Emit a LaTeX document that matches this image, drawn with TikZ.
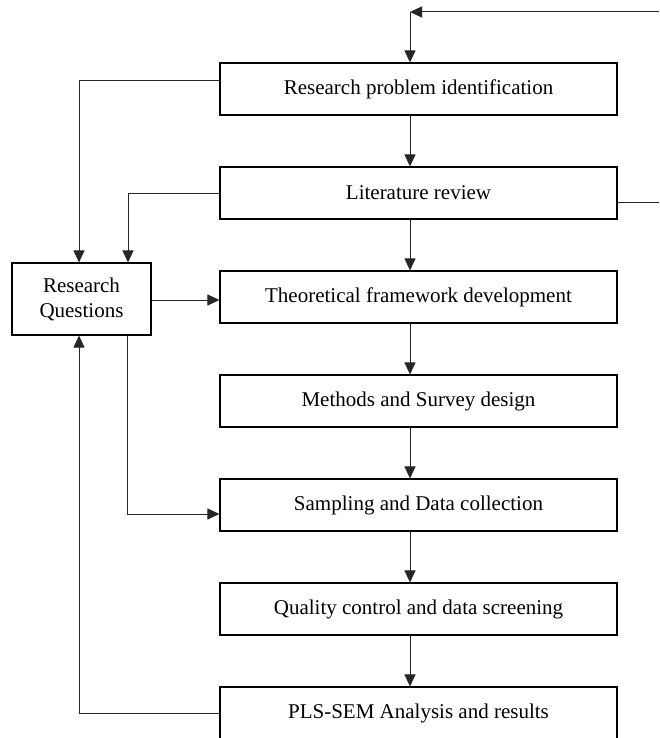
\documentclass[tikz,border=0pt]{standalone}
\usepackage{fontspec}
\setmainfont{Liberation Serif}
\usetikzlibrary{arrows.meta,positioning}

\begin{document}
\begin{tikzpicture}[x=1pt,y=-1pt,
    stage/.style={draw,line width=1.1pt,minimum width=397pt,minimum height=52pt,
      inner sep=0pt,font=\fontsize{21}{25}\selectfont},
    rqbox/.style={draw,line width=1.1pt,minimum width=139pt,minimum height=72pt,
      inner sep=0pt,align=center,font=\fontsize{21}{25}\selectfont},
    link/.style={line width=1pt,draw=black!85,-{Triangle[length=12pt,width=11pt]}},
    plain/.style={line width=1pt,draw=black!85}]
    \useasboundingbox (0,0) rectangle (659,738);

    \node[stage] (prob) at (418.5,89) {Research problem identification};
    \node[stage,below=50.9pt of prob] (lit) {Literature review};
    \node[stage,below=50.9pt of lit] (theo) {Theoretical framework development};
    \node[stage,below=50.9pt of theo] (meth) {Methods and Survey design};
    \node[stage,below=50.9pt of meth] (samp) {Sampling and Data collection};
    \node[stage,below=50.9pt of samp] (qual) {Quality control and data screening};
    \node[stage,below=50.9pt of qual] (pls) {PLS-SEM Analysis and results};
    \node[rqbox] (rq) at (81.5,299) {Research\\Questions};

    \coordinate (spine) at (410,0);
    \coordinate (fbin) at (659,12);
    \coordinate (fbout) at (659,202);
    \coordinate (fbturn) at (410,12);

    % main chain
    \draw[link] (prob.south -| spine) -- (lit.north -| spine);
    \draw[link] (lit.south -| spine) -- (theo.north -| spine);
    \draw[link] (theo.south -| spine) -- (meth.north -| spine);
    \draw[link] (meth.south -| spine) -- (samp.north -| spine);
    \draw[link] (samp.south -| spine) -- (qual.north -| spine);
    \draw[link] (qual.south -| spine) -- (pls.north -| spine);

    % feedback from literature review
    \draw[plain] (lit.east |- fbout) -- (fbout);
    \draw[link] (fbin) -- (fbturn);
    \draw[link] (fbturn) -- (prob.north -| fbturn);

    % research questions
    \draw[link] ([yshift=8pt]prob.west) -| ([xshift=-2.5pt]rq.north);
    \draw[link] (lit.west) -| ([xshift=46.5pt]rq.north);
    \draw[link] ([yshift=-1pt]rq.east) -- ([yshift=-1pt]rq.east -| theo.west);
    \draw[link] ([xshift=45.5pt]rq.south) |- ([yshift=-9pt]samp.west);
    \draw[link] (pls.west) -| ([xshift=-2.5pt]rq.south);
\end{tikzpicture}
\end{document}
